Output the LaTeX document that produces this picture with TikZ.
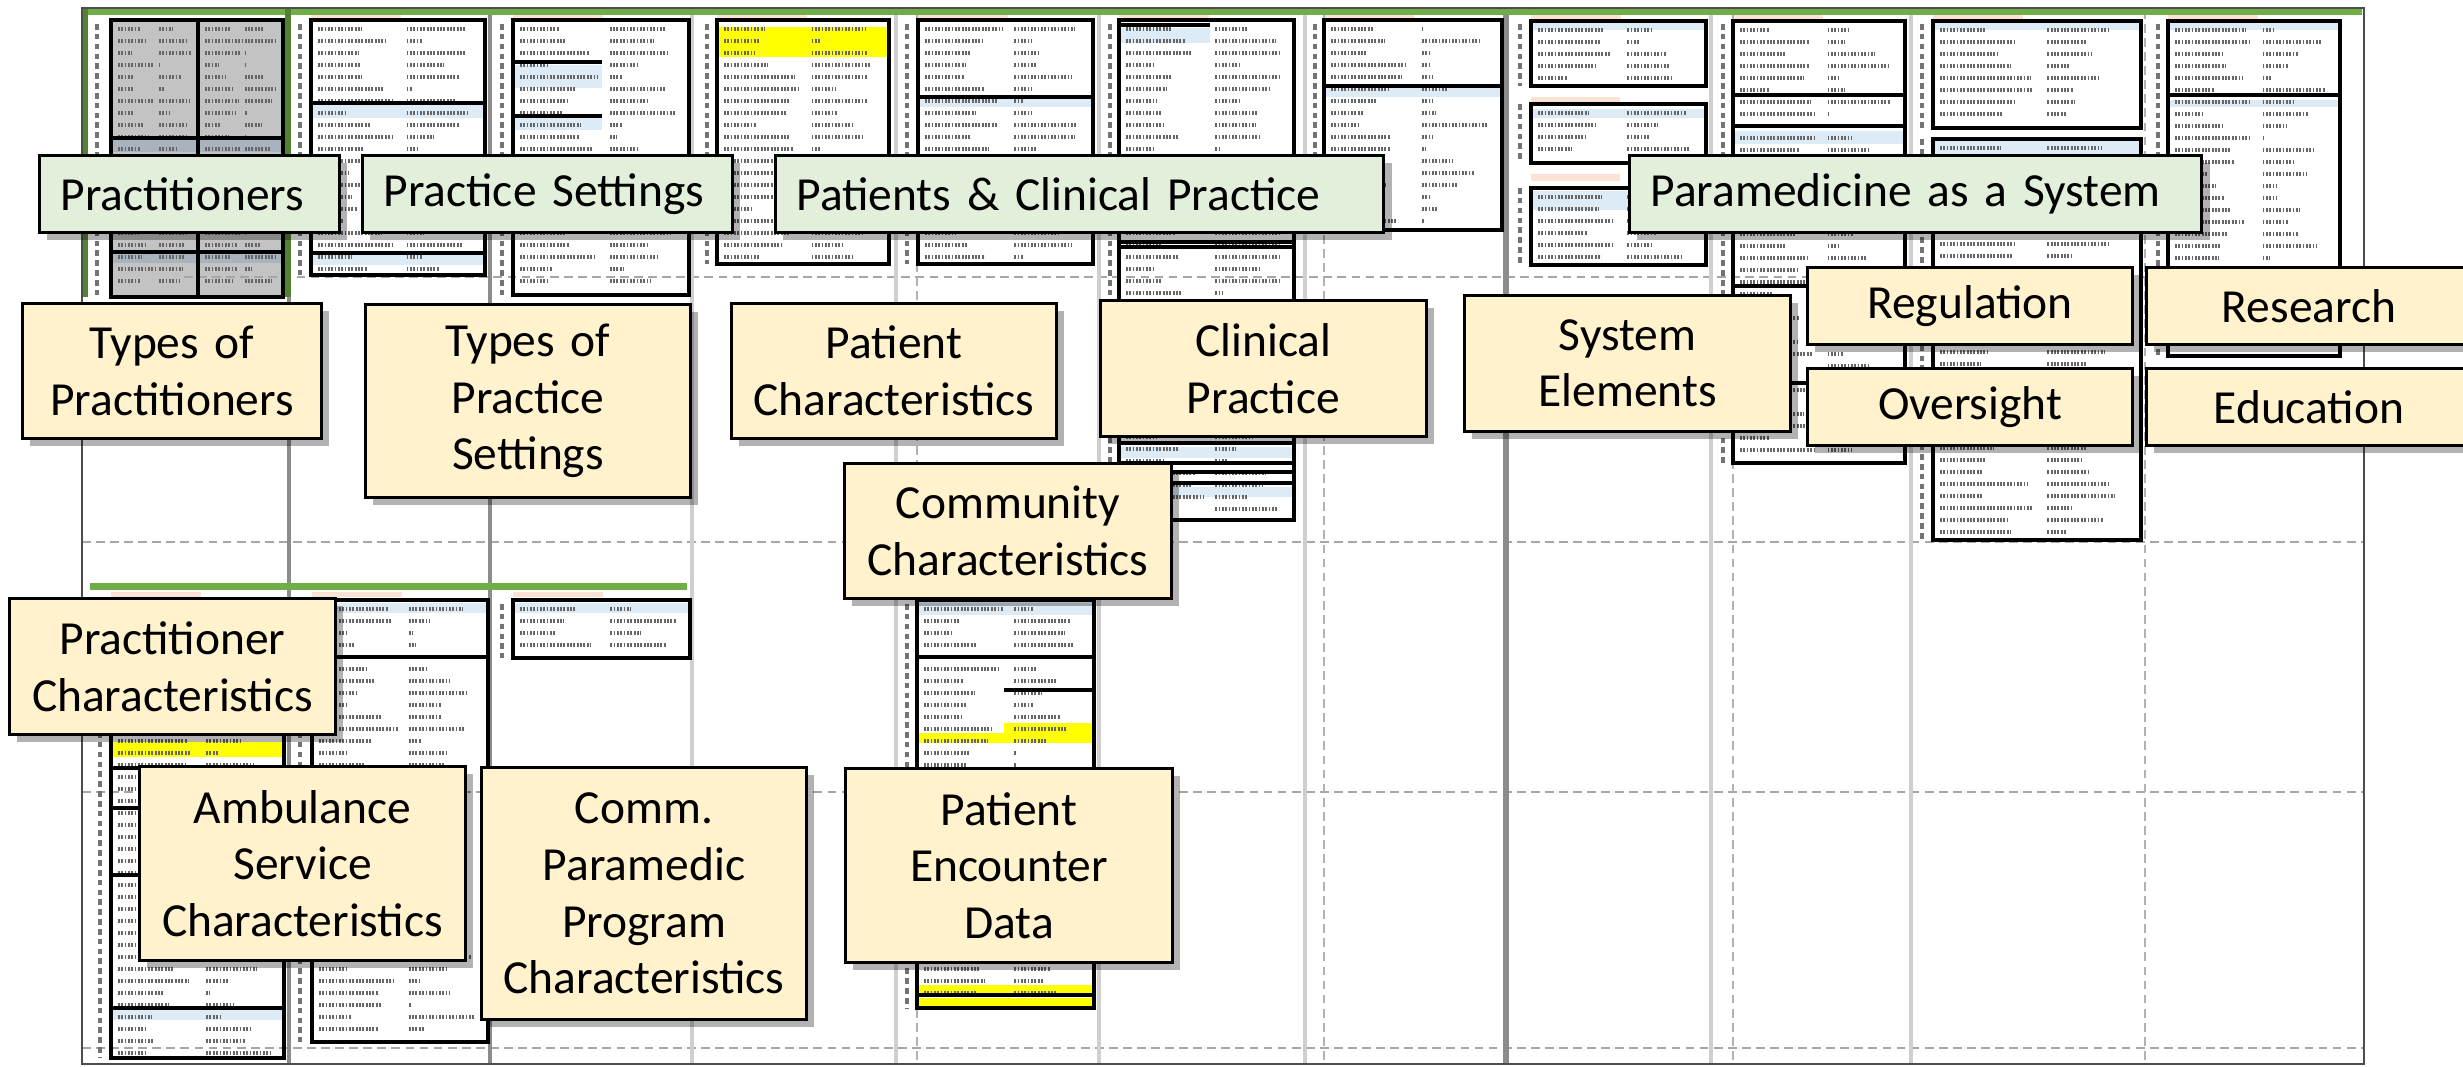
\documentclass[tikz,border=0pt]{standalone}
\usepackage{fontspec}
\setmainfont{Carlito}
\usetikzlibrary{shadows}
\definecolor{lgreen}{HTML}{E2EFDA}
\definecolor{lyellow}{HTML}{FFF2CC}
\definecolor{gbar}{HTML}{70AD47}
\definecolor{gframe}{HTML}{548235}
\definecolor{gridd}{HTML}{8C8C8C}
\definecolor{gridl}{HTML}{CFCFCF}
\definecolor{tgray}{HTML}{C3C3C3}
\definecolor{tslate}{HTML}{A9B3BE}
\definecolor{lblue}{HTML}{DDEBF7}
\definecolor{hyel}{HTML}{FFFF00}
\definecolor{peach}{HTML}{FBE2D5}
\newcommand\glbl[6]{%
  \pgfmathsetmacro\mylw{(#4-#2)*0.28453-12}%
  \pgfmathsetmacro\mylh{(#5-#3)*0.28453}%
  \node[gbox, text width=\mylw pt, minimum height=\mylh pt, anchor=north west] (#1) at (#2,#3) {#6};}
\newcommand\ylbl[6]{%
  \pgfmathsetmacro\mylw{(#4-#2)*0.28453-6}%
  \pgfmathsetmacro\mylh{(#5-#3)*0.28453}%
  \node[ybox, text width=\mylw pt, minimum height=\mylh pt, anchor=north west] (#1) at (#2,#3) {#6};}
\newcommand\bgtext[4]{%
  \pgfmathsetmacro\myya{#2+9}\pgfmathsetmacro\myyb{#2+21}\pgfmathsetmacro\myyc{#4-5}%
  \foreach \yy in {\myya,\myyb,...,\myyc}{%
    \pgfmathsetmacro\myla{(0.15+0.3*rnd)*(#3-#1)}%
    \pgfmathsetmacro\mylb{(0.38*rnd)*(#3-#1)}%
    \draw[txl] ({#1+7},\yy) -- ++(\myla,0);
    \draw[txl] ({#1+0.55*(#3-#1)},\yy) -- ++(\mylb,0);
  }}
\begin{document}
\begin{tikzpicture}[x=0.01cm,y=-0.01cm,
  tbl/.style={draw=black, line width=1.1pt},
  txl/.style={draw=black!60, line width=1.2pt, dash pattern=on 0.5pt off 0.45pt},
  rnum/.style={draw=black!55, line width=1pt, dash pattern=on 1.6pt off 1.2pt},
  vgd/.style={draw=gridd, line width=1.2pt},
  vgl/.style={draw=gridl, line width=1.2pt},
  hdash/.style={draw=black!35, line width=0.8pt, dash pattern=on 2.5pt off 1.5pt},
  vdash/.style={draw=black!30, line width=0.6pt, dash pattern=on 2.5pt off 1.5pt},
  lab/.style={draw=black, line width=0.8pt, font=\fontsize{13.5}{16.1}\selectfont, inner ysep=1pt,
    drop shadow={shadow xshift=2.2pt, shadow yshift=-2.2pt, fill=black, opacity=0.3}},
  gbox/.style={lab, fill=lgreen, inner xsep=6pt, align=left},
  ybox/.style={lab, fill=lyellow, inner xsep=3pt, align=center}]
\useasboundingbox (0,0) rectangle (2463,1066);
\fill[white] (0,0) rectangle (2463,1066);
\pgfmathsetseed{12}
% fills
\fill[tgray] (111,20) rectangle (283,297);
\fill[tslate] (111,138) rectangle (283,152);
\fill[tslate] (111,252) rectangle (283,263);
\fill[lblue] (311,105) rectangle (485,118);
\fill[lblue] (311,255) rectangle (485,265);
\fill[lblue] (513,65) rectangle (602,88);
\fill[lblue] (513,118) rectangle (602,130);
\fill[hyel] (717,27) rectangle (889,57);
\fill[lblue] (918,99) rectangle (1093,107);
\fill[lblue] (1119,28) rectangle (1210,43);
\fill[lblue] (1119,447) rectangle (1294,458);
\fill[lblue] (1119,487) rectangle (1294,497);
\fill[lblue] (1324,88) rectangle (1502,97);
\fill[lblue] (1531,23) rectangle (1706,30);
\fill[lblue] (1531,109) rectangle (1706,118);
\fill[lblue] (1531,191) rectangle (1706,210);
\fill[lblue] (1733,131) rectangle (1905,144);
\fill[lblue] (1933,23) rectangle (2141,30);
\fill[lblue] (1933,140) rectangle (2141,154);
\fill[lblue] (2168,23) rectangle (2340,30);
\fill[lblue] (2168,100) rectangle (2340,107);
\fill[peach] (1531,97) rectangle (1620,102);
\fill[peach] (1531,174) rectangle (1620,181);
\foreach \px in {311,513,717,918,1119,1324,1531,1733,1933,2168}{\fill[peach] (\px,15) rectangle ({\px+90},19);}
\fill[hyel] (111,742) rectangle (284,757);
\fill[lblue] (111,1010) rectangle (284,1020);
\fill[lblue] (312,603) rectangle (488,613);
\fill[lblue] (513,603) rectangle (690,613);
\fill[lblue] (917,603) rectangle (1094,615);
\fill[hyel] (1004,723) rectangle (1094,743);
\fill[hyel] (917,733) rectangle (1004,743);
\fill[hyel] (917,985) rectangle (1094,993);
\fill[hyel] (917,998) rectangle (1094,1007);
\foreach \px in {111,312,513}{\fill[peach] (\px,592) rectangle ({\px+90},597);}
% grid
\draw[hdash] (184,277) -- (2364,277);
\draw[hdash] (82,542) -- (2364,542);
\draw[hdash] (82,792) -- (2364,792);
\draw[hdash] (82,1048) -- (2364,1048);
\draw[vgd] (289,297) -- (289,1064);
\draw[vgd] (490,10) -- (490,1064);
\draw[vgl] (692,10) -- (692,1064);
\draw[vgl] (896,10) -- (896,1064);
\draw[vdash] (917,10) -- (917,1064);
\draw[vgl] (1099,10) -- (1099,1064);
\draw[vgl] (1305,10) -- (1305,1064);
\draw[vdash] (1324,10) -- (1324,1064);
\draw[vgd, line width=1.6pt] (1506,10) -- (1506,1064);
\draw[vgl] (1711,10) -- (1711,1064);
\draw[vdash] (1733,10) -- (1733,1064);
\draw[vgl] (1911,10) -- (1911,1064);
\draw[vdash] (2145,10) -- (2145,1064);
% row numbers
\foreach \px/\ya/\yb in {97/24/297, 300/24/275, 502/24/295, 707/24/264, 907/24/264, 1110/24/520, 1315/24/230, 1520/24/86, 1520/104/163, 1520/188/265, 1723/24/463, 1922/24/128, 1922/139/540, 2158/24/356, 100/604/1058, 300/604/1042, 502/604/658, 907/604/1008}
  {\draw[rnum] (\px,\ya) -- (\px,\yb);}
% texture
\bgtext{111}{20}{198}{297}
\bgtext{198}{20}{283}{297}
\bgtext{311}{20}{485}{275}
\bgtext{513}{20}{689}{295}
\bgtext{717}{20}{889}{264}
\bgtext{918}{20}{1093}{264}
\bgtext{1119}{20}{1294}{520}
\bgtext{1324}{20}{1502}{230}
\bgtext{1531}{21}{1706}{86}
\bgtext{1531}{104}{1706}{163}
\bgtext{1531}{188}{1706}{265}
\bgtext{1733}{21}{1905}{463}
\bgtext{1933}{21}{2141}{128}
\bgtext{1933}{139}{2141}{540}
\bgtext{2168}{21}{2340}{356}
\bgtext{111}{600}{284}{1058}
\bgtext{312}{600}{488}{1042}
\bgtext{513}{600}{690}{658}
\bgtext{917}{600}{1094}{1008}
% tables
\draw[tbl] (111,20) rectangle (283,297);
\draw[tbl] (198,20) -- (198,297) (111,138) -- (283,138) (111,252) -- (283,252);
\draw[tbl] (311,20) rectangle (485,275);
\draw[tbl] (311,103) -- (485,103) (311,253) -- (485,253);
\draw[tbl] (513,20) rectangle (689,295);
\draw[tbl] (513,62) -- (602,62) (513,116) -- (602,116);
\draw[tbl] (717,20) rectangle (889,264);
\draw[tbl] (918,20) rectangle (1093,264);
\draw[tbl] (918,97) -- (1093,97);
\draw[tbl] (1119,20) rectangle (1294,520);
\draw[tbl] (1119,25) -- (1210,25) (1119,242) -- (1294,242) (1119,247) -- (1294,247)
  (1119,443) -- (1294,443) (1119,463) -- (1294,463) (1119,472) -- (1294,472) (1119,483) -- (1294,483);
\draw[tbl] (1324,20) rectangle (1502,230);
\draw[tbl] (1324,86) -- (1502,86);
\draw[tbl] (1531,21) rectangle (1706,86);
\draw[tbl] (1531,104) rectangle (1706,163);
\draw[tbl] (1531,188) rectangle (1706,265);
\draw[tbl] (1733,21) rectangle (1905,463);
\draw[tbl] (1733,95) -- (1905,95) (1733,126) -- (1905,126) (1733,286) -- (1810,286) (1733,383) -- (1905,383);
\draw[tbl] (1933,21) rectangle (2141,128);
\draw[tbl] (1933,139) rectangle (2141,540);
\draw[tbl] (2168,21) rectangle (2340,356);
\draw[tbl] (2168,95) -- (2340,95);
\draw[tbl] (111,600) rectangle (284,1058);
\draw[tbl] (111,768) -- (284,768) (111,808) -- (284,808) (111,875) -- (284,875) (111,1008) -- (284,1008);
\draw[tbl] (312,600) rectangle (488,1042);
\draw[tbl] (312,657) -- (488,657);
\draw[tbl] (513,600) rectangle (690,658);
\draw[tbl] (917,600) rectangle (1094,1008);
\draw[tbl] (917,657) -- (1094,657) (1004,690) -- (1092,690) (917,995) -- (1094,995);
% green bars and frame
\fill[gbar] (84,9) rectangle (2362,15);
\fill[gbar] (90,583) rectangle (687,590);
\draw[gframe, line width=1.5pt] (85,8) -- (85,297) (288,8) -- (288,297);
\draw[black!70, line width=0.7pt] (82,8) rectangle (2364,1064);
% labels
\glbl{practitioners}{38}{154}{338}{231}{Practitioners}
\glbl{settings}{361}{154}{731}{231}{Practice Settings}
\glbl{patients}{774}{154}{1382}{231}{Patients \& Clinical Practice}
\glbl{system}{1628}{154}{2200}{231}{Paramedicine as a System}
\ylbl{typesprac}{21}{302}{320}{437}{Types of\\Practitioners}
\ylbl{typesset}{364}{303}{689}{496}{Types of\\Practice\\Settings}
\ylbl{patchar}{730}{302}{1055}{437}{Patient\\Characteristics}
\ylbl{clinical}{1099}{299}{1425}{435}{Clinical\\Practice}
\ylbl{syselem}{1463}{294}{1789}{430}{System\\Elements}
\ylbl{regulation}{1806}{266}{2131}{343}{Regulation}
\ylbl{oversight}{1806}{367}{2131}{444}{Oversight}
\ylbl{research}{2145}{266}{2470}{343}{Research}
\ylbl{education}{2145}{367}{2470}{444}{Education}
\ylbl{community}{843}{462}{1170}{597}{Community\\Characteristics}
\ylbl{pracchar}{8}{597}{334}{733}{Practitioner\\Characteristics}
\ylbl{ambulance}{138}{765}{464}{959}{Ambulance\\Service\\Characteristics}
\ylbl{comm}{480}{766}{805}{1018}{Comm.\\Paramedic\\Program\\Characteristics}
\ylbl{encounter}{844}{767}{1171}{961}{Patient\\Encounter\\Data}
\end{tikzpicture}
\end{document}
